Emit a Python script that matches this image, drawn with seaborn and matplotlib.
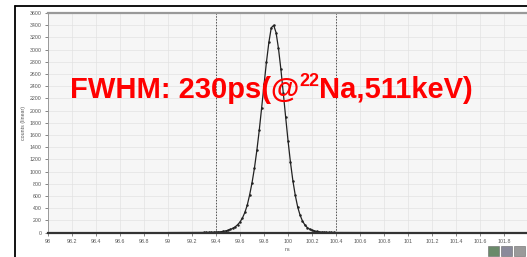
import numpy as np
import pandas as pd
import matplotlib
matplotlib.use("Agg")
import matplotlib.pyplot as plt
import seaborn as sns
from matplotlib.lines import Line2D
from matplotlib.patches import Rectangle

# time axis (ns) and counts
time_ns = [99.00, 99.30, 99.32, 99.34, 99.36, 99.38, 99.40, 99.42, 99.44, 99.46, 99.48,
           99.50, 99.52, 99.54, 99.56, 99.58, 99.60, 99.62, 99.64, 99.66, 99.68,
           99.70, 99.72, 99.74, 99.76, 99.78, 99.80, 99.82, 99.84, 99.86, 99.88,
           99.90, 99.92, 99.94, 99.96, 99.98, 100.00, 100.02, 100.04, 100.06, 100.08,
           100.10, 100.12, 100.14, 100.16, 100.18, 100.20, 100.22, 100.24, 100.26, 100.28,
           100.30, 100.32, 100.34, 100.36, 100.38, 100.40, 100.80]
counts = [0, 2, 3, 4, 5, 6, 8, 10, 14, 20, 28,
          38, 52, 70, 95, 130, 175, 240, 330, 450, 620,
          820, 1060, 1350, 1680, 2050, 2430, 2800, 3120, 3360, 3400,
          3280, 3020, 2680, 2290, 1890, 1500, 1150, 850, 610, 420,
          285, 190, 125, 82, 55, 38, 26, 18, 12, 8,
          6, 4, 3, 2, 2, 1, 0]

gate_lines = [99.4, 100.4]
x_ticks = [round(98 + 0.2 * i, 1) for i in range(20)]
y_ticks = list(range(0, 3601, 200))
title_parts = ["FWHM: 230ps(@", "22", "Na,511keV)"]

sns.set_style("whitegrid", {"axes.facecolor": "#f6f6f6", "grid.color": "#e2e2e2"})
plt.rcParams["font.family"] = ["Liberation Sans", "DejaVu Sans"]

df = pd.DataFrame({"ns": time_ns, "counts": counts})

fig = plt.figure(figsize=(5.27, 2.57), dpi=100)
ax = fig.add_axes([0.091, 0.095, 0.909, 0.854])

sns.lineplot(data=df, x="ns", y="counts", ax=ax, color="#222222", linewidth=0.9,
             marker="o", markersize=1.8, markeredgewidth=0)

for g in gate_lines:
    ax.axvline(g, color="#555555", linestyle=(0, (1.5, 1.5)), linewidth=0.7)

ax.set_xlim(98, 101.99)
ax.set_ylim(0, 3600)
ax.set_xticks(x_ticks)
ax.set_xticklabels([f"{t:g}" for t in x_ticks])
ax.set_yticks(y_ticks)
ax.tick_params(axis="both", labelsize=3.8, colors="#555555", length=2.5, width=0.5,
               direction="out", pad=2)
ax.tick_params(axis="x", bottom=True)
ax.tick_params(axis="y", left=True)
ax.grid(True, linewidth=0.5)
ax.set_xlabel("ns", fontsize=3.8, color="#555555", labelpad=2)
ax.set_ylabel("counts (linear)", fontsize=3.8, color="#555555", labelpad=3)

for side in ["left", "top", "right"]:
    ax.spines[side].set_color("#999999")
    ax.spines[side].set_linewidth(0.7)
ax.spines["bottom"].set_color("#333333")
ax.spines["bottom"].set_linewidth(1.6)
ax.spines["top"].set_linewidth(1.6)

# red annotation, superscript drawn as its own smaller raised piece
renderer = fig.canvas.get_renderer()
x0, base = 70 / 527, 0.62
sizes = [21, 13, 21]
rises = [0, 0.045, 0]
for part, fs, rise in zip(title_parts, sizes, rises):
    t = fig.text(x0, base + rise, part, color="#ff0000", fontsize=fs, fontweight="bold",
                 ha="left", va="baseline")
    bb = t.get_window_extent(renderer)
    x0 += bb.width / fig.bbox.width

# outer frame of the screenshot
fig.add_artist(Line2D([15 / 527, 15 / 527], [0, 1 - 6 / 257], color="black", linewidth=1.3))
fig.add_artist(Line2D([15 / 527, 1], [1 - 6 / 257, 1 - 6 / 257], color="black", linewidth=1.3))

# little toolbar icons at the bottom right
for i, c in enumerate(["#6a8a6a", "#8a8a9a", "#9a9a9a"]):
    fig.add_artist(Rectangle(((488 + i * 13) / 527, 0.005), 11 / 527, 10 / 257,
                             facecolor=c, edgecolor="#666666", linewidth=0.4))

fig.savefig("out.png", dpi=100)
